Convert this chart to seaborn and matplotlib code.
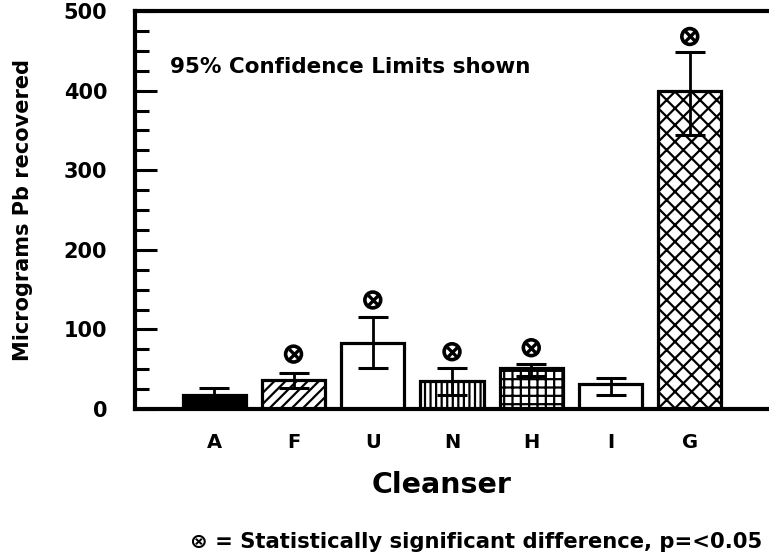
import matplotlib
matplotlib.use("Agg")
import numpy as np
import pandas as pd
import seaborn as sns
from matplotlib import pyplot as plt
from matplotlib.ticker import MultipleLocator

cleansers = ["A", "F", "U", "N", "H", "I", "G"]
mean_pb = [17, 37, 83, 35, 51, 32, 400]
ci_low = [10, 27, 52, 18, 41, 18, 344]
ci_high = [26, 45, 116, 51, 57, 39, 448]
significant = ["F", "U", "N", "H", "G"]
sig_marker_y = [69, 137, 72, 77, 468]

hatches = ["", "///", "", "|||", "++", "", "xx"]
fills = ["black", "white", "white", "white", "white", "white", "white"]

sns.set_style("white")
plt.rcParams["font.family"] = ["DejaVu Sans"]
plt.rcParams["font.weight"] = "bold"
plt.rcParams["text.color"] = "black"
plt.rcParams["axes.labelcolor"] = "black"
plt.rcParams["xtick.color"] = "black"
plt.rcParams["ytick.color"] = "black"
plt.rcParams["hatch.linewidth"] = 1.6
plt.rcParams["hatch.color"] = "black"

df = pd.DataFrame({"Cleanser": cleansers, "Pb": mean_pb})

fig = plt.figure(figsize=(7.69, 5.54), dpi=100)
ax = fig.add_axes([0.1756, 0.2617, 0.8244, 0.7184])

sns.barplot(data=df, x="Cleanser", y="Pb", order=cleansers, errorbar=None,
            width=0.8, ax=ax, color="white", edgecolor="black", linewidth=2.3)

for patch, h, fc in zip(ax.patches, hatches, fills):
    patch.set_facecolor(fc)
    patch.set_hatch(h)

x = np.arange(len(cleansers))
yerr = [np.array(mean_pb) - np.array(ci_low), np.array(ci_high) - np.array(mean_pb)]
ax.errorbar(x, mean_pb, yerr=yerr, fmt="none", ecolor="black",
            elinewidth=2.0, capsize=11, capthick=2.2, zorder=5)

sig_x = [cleansers.index(c) for c in significant]
ax.scatter(sig_x, sig_marker_y, s=130, marker="o", facecolors="none",
           edgecolors="black", linewidths=2.6, zorder=6)
ax.scatter(sig_x, sig_marker_y, s=55, marker="x", color="black",
           linewidths=2.4, zorder=6)

ax.set_xlim(-1.0, 7.0)
ax.set_ylim(0, 500)
ax.yaxis.set_major_locator(MultipleLocator(100))
ax.yaxis.set_minor_locator(MultipleLocator(25))
ax.tick_params(axis="y", which="major", direction="in", length=16, width=2.2,
               labelsize=15, pad=20, left=True)
ax.tick_params(axis="y", which="minor", direction="in", length=10, width=2.2,
               left=True)
ax.tick_params(axis="x", length=0, labelsize=14, pad=17)

for side in ["left", "bottom", "top"]:
    ax.spines[side].set_linewidth(3.0)
    ax.spines[side].set_color("black")
ax.spines["right"].set_visible(False)

ax.set_xlabel("Cleanser", fontsize=20.5, fontweight="bold", va="center")
ax.xaxis.set_label_coords(0.483, -0.19)
ax.set_ylabel("Micrograms Pb recovered", fontsize=15, fontweight="bold", labelpad=22)

ax.text(0.055, 0.86, "95% Confidence Limits shown", transform=ax.transAxes,
        fontsize=15.5, fontweight="bold", ha="left", va="center")

fig.text(0.247, 0.022, "\u2297 = Statistically significant difference, p=<0.05",
         fontsize=15.2, fontweight="bold", ha="left", va="center")

fig.savefig("out.png", dpi=100)
